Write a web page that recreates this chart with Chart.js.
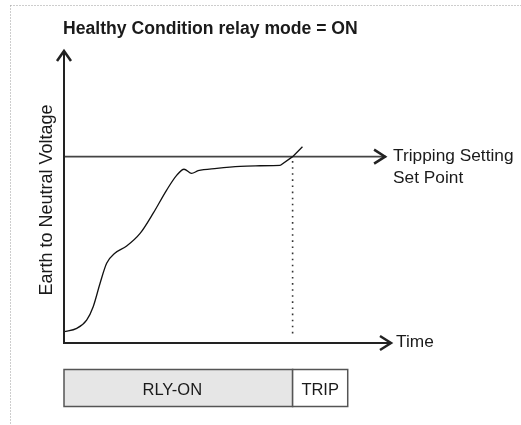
<!DOCTYPE html>
<html>
<head>
<meta charset="utf-8">
<script src="https://cdn.jsdelivr.net/npm/chart.js@4"></script>
<style>
  body { margin: 0; background: #fff; }
  #wrap { width: 521px; height: 425px; position: relative; }
</style>
</head>
<body>
<div id="wrap"><canvas id="myChart"></canvas></div>
<script>
// voltage curve (time units 0-100, voltage units 0-100)
const curveX = [0, 3.9, 6.9, 8.9, 11.0, 13.0, 15.5, 19.1, 23.2, 27.2, 31.3, 34.4, 36.6, 38.9, 40.9, 46.6, 53.7, 59.8, 65.9];
const curveY = [3.9, 5.0, 7.8, 12.4, 20.4, 27.2, 30.6, 33.1, 37.4, 44.3, 52.2, 57.3, 59.3, 57.9, 58.8, 59.6, 60.3, 60.5, 60.6];
// straight part where it crosses the set point
const tailX = [65.9, 69.7, 72.7];
const tailY = [60.6, 63.6, 67.0];

const setPoint = 63.6;
const tripTime = 69.7;
const setLineEnd = 98.2;

// relay state bar underneath
const states = ['RLY-ON', 'TRIP'];
const stateEdges = [0, 69.7, 86.5];
const stateFill = ['#e6e6e6', '#ffffff'];

const toPts = (xs, ys) => xs.map((x, i) => ({x: x, y: ys[i]}));

const FONT = '"Liberation Sans", Arial, sans-serif';

function chevron(ctx, tx, ty, dir) {
    // open arrow head, dir 'up' or 'right'
    ctx.beginPath();
    if (dir === 'up') {
        ctx.moveTo(tx - 7, ty + 11);
        ctx.lineTo(tx, ty + 1);
        ctx.lineTo(tx + 7, ty + 11);
    } else {
        ctx.moveTo(tx - 12, ty - 7);
        ctx.lineTo(tx - 1, ty);
        ctx.lineTo(tx - 12, ty + 7);
    }
    ctx.stroke();
}

const decor = {
    id: 'decor',
    beforeDraw(chart) {
        const ctx = chart.ctx;
        ctx.save();
        // dotted frame top + left
        ctx.strokeStyle = '#9a9a9a';
        ctx.lineWidth = 1;
        ctx.setLineDash([1, 2]);
        ctx.beginPath();
        ctx.moveTo(10.5, 5.5); ctx.lineTo(521, 5.5);
        ctx.moveTo(10.5, 5.5); ctx.lineTo(10.5, 425);
        ctx.stroke();
        ctx.restore();
    },
    afterDatasetsDraw(chart) {
        const ctx = chart.ctx;
        const xs = chart.scales.x, ys = chart.scales.y;
        const x0 = xs.getPixelForValue(0), y0 = ys.getPixelForValue(0);
        const xTop = xs.getPixelForValue(100), yTop = ys.getPixelForValue(100);
        ctx.save();
        ctx.lineCap = 'butt';

        // axes
        ctx.strokeStyle = '#222';
        ctx.lineWidth = 2;
        ctx.beginPath();
        ctx.moveTo(x0, yTop + 1); ctx.lineTo(x0, y0);
        ctx.lineTo(xTop - 1, y0);
        ctx.stroke();
        ctx.lineWidth = 2.5;
        ctx.lineJoin = 'miter';
        chevron(ctx, x0, yTop, 'up');
        chevron(ctx, xTop, y0, 'right');
        // set point arrow
        chevron(ctx, xs.getPixelForValue(setLineEnd), ys.getPixelForValue(setPoint), 'right');

        // text
        ctx.fillStyle = '#1a1a1a';
        ctx.textAlign = 'left';
        ctx.textBaseline = 'alphabetic';
        ctx.font = 'bold 17.6px ' + FONT;
        ctx.fillText('Healthy Condition relay mode = ON', 63, 34);

        ctx.font = '17.3px ' + FONT;
        const sx = xs.getPixelForValue(setLineEnd) + 7;
        ctx.fillText('Tripping Setting', sx, 161);
        ctx.fillText('Set Point', sx, 183);
        ctx.fillText('Time', xTop + 4, 347);

        ctx.save();
        ctx.translate(52, 200);
        ctx.rotate(-Math.PI / 2);
        ctx.textAlign = 'center';
        ctx.font = '18px ' + FONT;
        ctx.fillText('Earth to Neutral Voltage', 0, 0);
        ctx.restore();

        // relay state bar
        const bTop = 369.5, bBot = 406.5;
        for (let i = 0; i < states.length; i++) {
            const a = xs.getPixelForValue(stateEdges[i]);
            const b = xs.getPixelForValue(stateEdges[i + 1]);
            ctx.fillStyle = stateFill[i];
            ctx.fillRect(a, bTop, b - a, bBot - bTop);
            ctx.strokeStyle = '#555';
            ctx.lineWidth = 1.5;
            ctx.strokeRect(a, bTop, b - a, bBot - bTop);
            ctx.fillStyle = '#1a1a1a';
            ctx.font = '16.5px ' + FONT;
            ctx.textAlign = 'center';
            ctx.textBaseline = 'middle';
            const cx = i === 0 ? (a + b) / 2 - 6 : (a + b) / 2;
            ctx.fillText(states[i], cx, 390);
        }
        ctx.restore();
    }
};

const ctx = document.getElementById('myChart');
new Chart(ctx, {
    type: 'line',
    data: {
        datasets: [{
            data: toPts(curveX, curveY),
            borderColor: '#111',
            borderWidth: 1.3,
            pointRadius: 0,
            cubicInterpolationMode: 'monotone',
            fill: false
        }, {
            data: toPts(tailX, tailY),
            borderColor: '#111',
            borderWidth: 1.3,
            pointRadius: 0,
            tension: 0,
            fill: false
        }, {
            // tripping setting level
            data: [{x: 0, y: setPoint}, {x: setLineEnd, y: setPoint}],
            borderColor: '#444',
            borderWidth: 1.8,
            pointRadius: 0,
            fill: false
        }, {
            // trip moment
            data: [{x: tripTime, y: setPoint - 1.5}, {x: tripTime, y: 2}],
            borderColor: '#333',
            borderWidth: 1.6,
            borderDash: [1.6, 4.5],
            pointRadius: 0,
            fill: false
        }]
    },
    options: {
        responsive: true,
        maintainAspectRatio: false,
        animation: false,
        layout: {
            padding: {left: 64, top: 50, right: 129, bottom: 82}
        },
        plugins: {
            legend: {display: false},
            tooltip: {enabled: false}
        },
        scales: {
            x: {type: 'linear', min: 0, max: 100, display: false},
            y: {type: 'linear', min: 0, max: 100, display: false}
        }
    },
    plugins: [decor]
});
</script>
</body>
</html>
